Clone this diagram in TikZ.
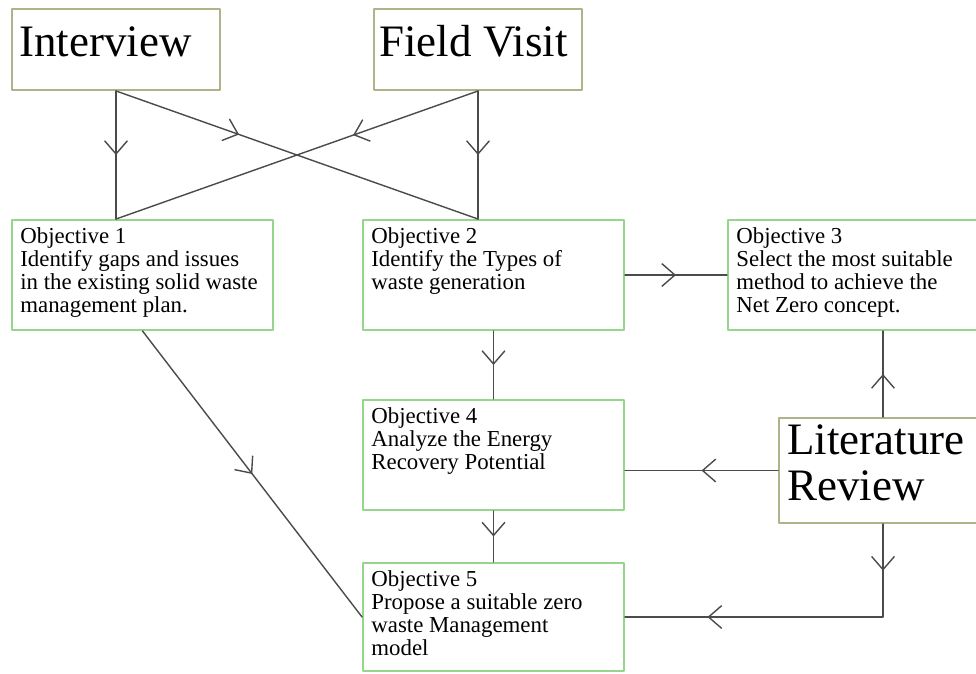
\documentclass[tikz,border=0pt]{standalone}
\usepackage{fontspec}
\setmainfont{Liberation Serif}
\usepackage{xcolor}
\usepackage{tikz}
\usetikzlibrary{arrows.meta}
\usetikzlibrary{calc}
\usetikzlibrary{fit}
\usetikzlibrary{decorations.markings}
\definecolor{boxolive}{RGB}{178,178,138}
\definecolor{boxgreen}{RGB}{150,214,140}
\definecolor{linegray}{RGB}{75,75,75}
\tikzset{>={Straight Barb[length=7.5pt,width=13pt]}}
\tikzset{
	srcbox/.style={draw=boxolive,line width=1.1pt,inner sep=0pt},
	objbox/.style={draw=boxgreen,line width=1.1pt,inner sep=0pt},
	bigtext/.style={anchor=north west,inner sep=0pt,align=left,font=\fontsize{25.6pt}{26.2pt}\selectfont},
	objtext/.style={anchor=north west,inner sep=0pt,align=left,font=\fontsize{13pt}{13.1pt}\selectfont},
	flow/.style={color=linegray,line width=0.8pt,postaction={decorate},
		decoration={markings,mark=at position #1 with {\arrow{>}}}},
	flow/.default=0.5
}

\begin{document}
\begin{tikzpicture}[line cap=round,line join=round,x=0.02cm,y=-0.02cm]
	\useasboundingbox (0,0) rectangle (976,673);
	\node[srcbox,fit={(12,9) (220,90)}] (interview) {};
	\node[srcbox,fit={(374,9) (582,90)}] (fieldvisit) {};
	\node[srcbox,fit={(779,418) (987,523)}] (litreview) {};
	\node[objbox,fit={(12,220) (273,330)}] (obj1) {};
	\node[objbox,fit={(363,220) (624,330)}] (obj2) {};
	\node[objbox,fit={(728,220) (1010,330)}] (obj3) {};
	\node[objbox,fit={(363,400) (624,510)}] (obj4) {};
	\node[objbox,fit={(363,563) (624,671)}] (obj5) {};

	\node[bigtext] (interviewtxt) at ([shift={(8,18)}]interview.north west) {Interview};
	\node[bigtext] (fieldvisittxt) at ([shift={(6,17)}]fieldvisit.north west) {Field Visit};
	\node[bigtext] (litreviewtxt) at ([shift={(9,7)}]litreview.north west) {Literature\\Review};
	\node[objtext] (obj1txt) at ([shift={(9,8)}]obj1.north west) {Objective 1\\Identify gaps and issues\\in the existing solid waste\\management plan.};
	\node[objtext] (obj2txt) at ([shift={(9,8)}]obj2.north west) {Objective 2\\Identify the Types of\\waste generation};
	\node[objtext] (obj3txt) at ([shift={(9,8)}]obj3.north west) {Objective 3\\Select the most suitable\\method to achieve the\\Net Zero concept.};
	\node[objtext] (obj4txt) at ([shift={(9,8)}]obj4.north west) {Objective 4\\Analyze the Energy\\Recovery Potential};
	\node[objtext] (obj5txt) at ([shift={(9,8)}]obj5.north west) {Objective 5\\Propose a suitable zero\\waste Management\\model};

	\draw[flow] (interview.south) -- (interview.south |- obj1.north);
	\draw[flow] (fieldvisit.south) -- (fieldvisit.south |- obj2.north);
	\draw[flow=0.34] (interview.south) -- (fieldvisit.south |- obj2.north);
	\draw[flow=0.345] (fieldvisit.south) -- (interview.south |- obj1.north);
	\draw[flow] (obj2.east) -- (obj3.west);
	\draw[flow] (obj2.south) -- (obj4.north);
	\draw[flow] (obj4.south) -- (obj5.north);
	\draw[flow] (obj1.south) -- (obj5.west);
	\draw[flow] (litreview.north) -- (litreview.north |- obj3.south);
	\draw[flow] (litreview.west) -- (litreview.west -| obj4.east);
	\draw[color=linegray,line width=0.8pt,postaction={decorate},
		decoration={markings,mark=at position 0.133 with {\arrow{>}},mark=at position 0.765 with {\arrow{>}}}]
		(litreview.south) -- (litreview.south |- obj5.east) -- (obj5.east);
\end{tikzpicture}
\end{document}
